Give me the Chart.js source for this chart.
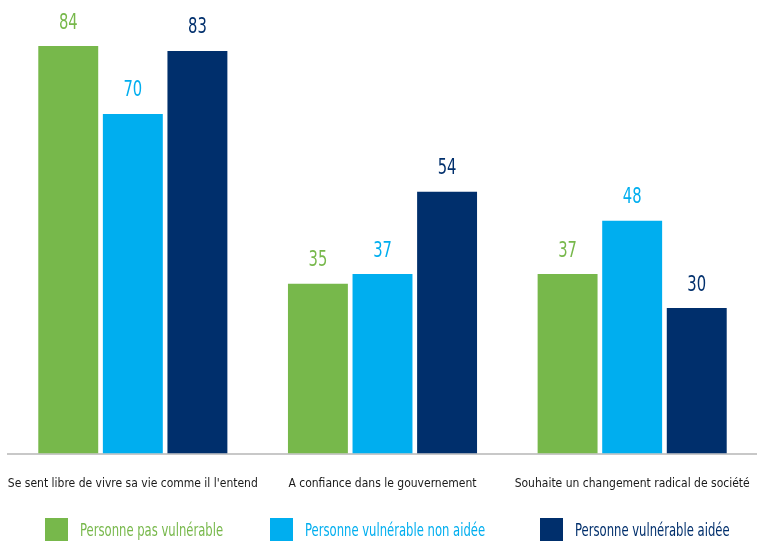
<!DOCTYPE html>
<html><head><meta charset="utf-8">
<script src="https://cdn.jsdelivr.net/npm/chart.js@4"></script>
<style>
html,body{margin:0;padding:0;background:#fff;}
#wrap{position:relative;width:757px;height:541px;overflow:hidden;}
canvas{display:block;}
.leg{position:absolute;top:518px;display:flex;align-items:center;font-family:"DejaVu Sans Condensed",sans-serif;font-size:17px;white-space:nowrap;}
.leg span.box{display:inline-block;width:23px;height:23px;margin-right:12px;}
.leg span.txt{display:inline-block;transform:scaleX(0.76);transform-origin:left center;}
</style></head>
<body><div id="wrap"><canvas id="c" width="757" height="541"></canvas>
<div id="legend"></div></div>
<script>
const categories = ["Se sent libre de vivre sa vie comme il l'entend","A confiance dans le gouvernement","Souhaite un changement radical de société"];
const seriesNames = ["Personne pas vulnérable","Personne vulnérable non aidée","Personne vulnérable aidée"];
const pasVulnerable = [84, 35, 37];
const vulnerableNonAidee = [70, 37, 48];
const vulnerableAidee = [83, 54, 30];
const colors = ["#77B84B","#00AEEF","#002F6C"];
const legendLeft = [45, 270, 540];

const FONT = "'DejaVu Sans Condensed',sans-serif";
const seriesValues = [pasVulnerable, vulnerableNonAidee, vulnerableAidee];

const valueLabels = {
  id:'valueLabels',
  afterDatasetsDraw(chart){
    const ctx = chart.ctx;
    chart.data.datasets.forEach((ds,i)=>{
      const meta = chart.getDatasetMeta(i);
      meta.data.forEach((bar,j)=>{
        ctx.save();
        ctx.font = "21px " + FONT;
        ctx.textAlign = 'center';
        ctx.textBaseline = 'middle';
        ctx.fillStyle = ds.backgroundColor;
        ctx.translate(bar.x, bar.y - 23);
        ctx.scale(0.78, 1);
        ctx.fillText(String(ds.data[j]), 0, 0);
        ctx.restore();
      });
    });
  }
};

new Chart(document.getElementById('c'), {
  type:'bar',
  data:{
    labels: categories,
    datasets: seriesValues.map((v,i)=>({label:seriesNames[i], data:v, backgroundColor:colors[i], barPercentage:0.928, categoryPercentage:0.776}))
  },
  options:{
    responsive:false,
    animation:false,
    layout:{padding:{top:17,left:8,right:0,bottom:35}},
    plugins:{legend:{display:false},tooltip:{enabled:false}},
    scales:{
      x:{
        grid:{display:false},
        border:{display:true,color:'#c8c8c8',width:2},
        ticks:{color:'#1a1a1a',font:{family:FONT,size:12},padding:15,maxRotation:0,autoSkip:false},
        afterFit(scale){ scale.paddingLeft = 0; scale.paddingRight = 0; }
      },
      y:{display:false,min:0,max:90}
    }
  },
  plugins:[valueLabels]
});

const legend = document.getElementById('legend');
seriesNames.forEach((n,i)=>{
  const d = document.createElement('div');
  d.className='leg';
  d.style.left = legendLeft[i]+'px';
  d.style.color = colors[i];
  d.innerHTML = '<span class="box" style="background:'+colors[i]+'"></span><span class="txt">'+n+'</span>';
  legend.appendChild(d);
});
</script>
</body></html>
